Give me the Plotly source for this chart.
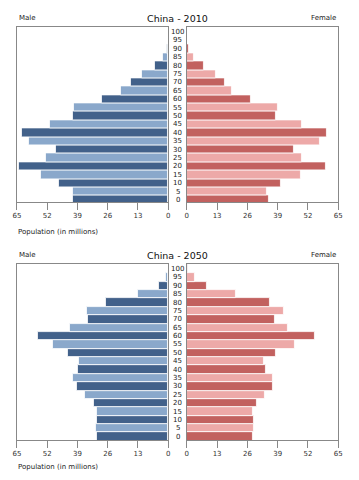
import plotly.graph_objects as go

ages = [0, 5, 10, 15, 20, 25, 30, 35, 40, 45, 50, 55, 60, 65, 70, 75, 80, 85, 90, 95, 100]
age_labels = [str(a) for a in ages]

male_2010 = [41.0, 40.8, 46.8, 54.8, 64.3, 52.4, 48.2, 59.8, 62.9, 51.0, 40.8, 40.5, 28.7, 20.3, 16.1, 11.2, 5.9, 2.1, 0.5, 0.2, 0.1]
female_2010 = [35.3, 34.3, 40.2, 49.0, 59.6, 49.2, 46.0, 56.9, 60.0, 49.2, 38.4, 39.2, 27.3, 19.5, 16.2, 12.4, 7.3, 3.1, 0.7, 0.1, 0.05]
male_2050 = [30.8, 31.2, 30.8, 30.5, 31.9, 35.6, 39.3, 41.0, 38.6, 38.2, 42.9, 49.5, 56.0, 42.2, 34.7, 35.0, 26.7, 12.9, 4.1, 1.1, 0.3]
female_2050 = [28.5, 28.9, 28.7, 28.5, 30.1, 33.6, 37.0, 37.1, 34.0, 33.2, 38.4, 46.3, 55.0, 43.5, 37.8, 41.6, 35.7, 21.1, 8.5, 3.3, 0.3]

x_ticks = [0, 13, 26, 39, 52, 65]
years = ["2010", "2050"]

male_dark, male_light = "#42618a", "#8aa8cb"
female_dark, female_light = "#c2615f", "#eda9a8"
male_colors = [male_dark if i % 2 == 0 else male_light for i in range(len(ages))]
female_colors = [female_dark if i % 2 == 0 else female_light for i in range(len(ages))]

# page has an 8px body margin; the figure is sized so the page fits the window
OFF = 8
W, H = 359 - 2 * OFF, 480 - 2 * OFF
def px(x): return (x - OFF) / W
def py(y): return 1 - (y - OFF) / H

FONT = "DejaVu Sans"
fig = go.Figure()

panels = [
    (male_2010, female_2010, years[0], 27.3, 202.0, [-1.2, 102.8]),
    (male_2050, female_2050, years[1], 264.0, 440.0, [-2.0, 103.0]),
]

left_dom = [px(13), px(168)]
right_dom = [px(187), px(342)]
line_col = "#888888"
annotations = []
layout = {}
for k, (m, f, yr, top, bot, yr_range) in enumerate(panels):
    xl = 2 * k + 1
    xr = 2 * k + 2
    xl_name = "x" if xl == 1 else f"x{xl}"
    xr_name = f"x{xr}"
    yl_name = "y" if xl == 1 else f"y{xl}"
    yr_name = f"y{xr}"
    fig.add_trace(go.Bar(y=ages, x=m, orientation="h", width=5,
                         marker=dict(color=male_colors, line=dict(color="#ffffff", width=0.8)),
                         xaxis=xl_name, yaxis=yl_name, showlegend=False, hoverinfo="x+y"))
    fig.add_trace(go.Bar(y=ages, x=f, orientation="h", width=5,
                         marker=dict(color=female_colors, line=dict(color="#ffffff", width=0.8)),
                         xaxis=xr_name, yaxis=yr_name, showlegend=False, hoverinfo="x+y"))
    ydom = [py(bot), py(top)]
    xa = dict(tickvals=x_ticks, ticktext=[str(t) for t in x_ticks], showgrid=False, zeroline=False,
              showline=True, mirror=True, linecolor=line_col, linewidth=1,
              ticks="outside", ticklen=7, tickcolor=line_col,
              tickfont=dict(family=FONT, size=7, color="#333333"))
    layout[f"xaxis{xl if xl > 1 else ''}"] = dict(xa, domain=left_dom, range=[65, 0], anchor=yl_name)
    layout[f"xaxis{xr}"] = dict(xa, domain=right_dom, range=[0, 65], anchor=yr_name)
    ya = dict(range=yr_range, showgrid=False, zeroline=False, showticklabels=False,
              showline=True, mirror=True, linecolor=line_col, linewidth=1, ticks="", domain=ydom)
    layout[f"yaxis{xl if xl > 1 else ''}"] = dict(ya, anchor=xl_name)
    layout[f"yaxis{xr}"] = dict(ya, anchor=xr_name)

    for a, lab in zip(ages, age_labels):
        annotations.append(dict(x=px(177.7), xref="paper", y=a, yref=yr_name, text=lab,
                                showarrow=False, xanchor="center", yanchor="middle",
                                font=dict(family=FONT, size=7, color="#222222")))
    title_y = top - 9.0
    annotations.append(dict(x=px(177.7), xref="paper", y=py(title_y), yref="paper",
                            text=f"China - {yr}", showarrow=False, xanchor="center", yanchor="middle",
                            font=dict(family=FONT, size=9.5, color="#111111")))
    annotations.append(dict(x=px(13), xref="paper", y=py(title_y), yref="paper",
                            text="Male", showarrow=False, xanchor="left", yanchor="middle",
                            font=dict(family=FONT, size=7, color="#222222")))
    annotations.append(dict(x=px(342), xref="paper", y=py(title_y), yref="paper",
                            text="Female", showarrow=False, xanchor="right", yanchor="middle",
                            font=dict(family=FONT, size=7, color="#222222")))
    pop_y = min(py(bot + 30), py(H + OFF - 0.5))
    annotations.append(dict(x=px(13), xref="paper", y=max(py(bot + 30), 0.0) if k == 0 else 0.0,
                            yref="paper", text="Population (in millions)", showarrow=False,
                            xanchor="left", yanchor="middle" if k == 0 else "bottom", borderpad=0,
                            font=dict(family=FONT, size=7, color="#222222")))

fig.update_layout(width=W, height=H, margin=dict(l=0, r=0, t=0, b=0),
                  paper_bgcolor="white", plot_bgcolor="white", bargap=0,
                  annotations=annotations, **layout)
fig.write_html("out.html")
